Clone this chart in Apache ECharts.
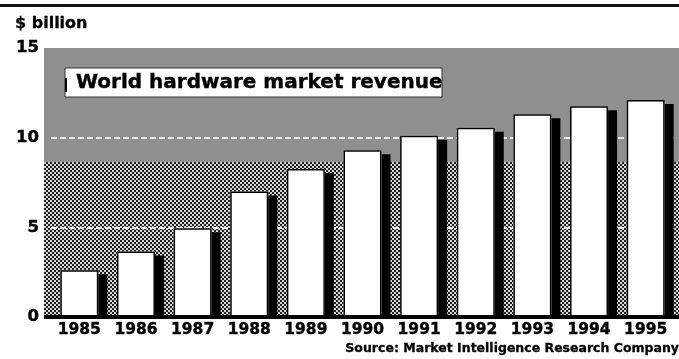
<!DOCTYPE html>
<html>
<head>
<meta charset="utf-8">
<script src="https://cdn.jsdelivr.net/npm/echarts@6/dist/echarts.min.js"></script>
<style>
html,body{margin:0;padding:0;background:#fff;}
#main{width:679px;height:359px;}
</style>
</head>
<body>
<div id="main"></div>
<script>
var categories = ['1985','1986','1987','1988','1989','1990','1991','1992','1993','1994','1995'];
var revenue = [2.6, 3.65, 4.95, 7.0, 8.25, 9.3, 10.1, 10.55, 11.3, 11.75, 12.1];
var yTicks = [0, 5, 10, 15];
var titleText = 'World hardware market revenue';
var unitText = '$ billion';
var sourceText = 'Source: Market Intelligence Research Company';

var FONT = '"DejaVu Sans", "Liberation Sans", sans-serif';

// checker pattern for the lower background band
var pat = document.createElement('canvas');
pat.width = 4; pat.height = 4;
var pc = pat.getContext('2d');
pc.fillStyle = '#d4d4d4'; pc.fillRect(0, 0, 4, 4);
pc.fillStyle = '#222222'; pc.fillRect(0, 0, 2, 2); pc.fillRect(2, 2, 2, 2);

var chart = echarts.init(document.getElementById('main'), null, {renderer: 'canvas'});

chart.setOption({
  animation: false,
  backgroundColor: '#ffffff',
  grid: {left: 51, right: 5, top: 48, bottom: 42},
  graphic: [
    {type: 'rect', z: 0, shape: {x: 0, y: 4, width: 679, height: 3}, style: {fill: '#111'}},
    {type: 'rect', z: 0, shape: {x: 44, y: 48, width: 635, height: 114}, style: {fill: '#8f8f8f'}},
    {type: 'rect', z: 0, shape: {x: 44, y: 162, width: 635, height: 155}, style: {fill: {image: pat, repeat: 'repeat'}}},
    {type: 'rect', z: 10, shape: {x: 44, y: 319, width: 635, height: 40}, style: {fill: '#ffffff'}},
    {type: 'rect', z: 11, shape: {x: 44, y: 315, width: 635, height: 4}, style: {fill: '#000'}},
    {type: 'rect', z: 11, shape: {x: 65, y: 68, width: 377, height: 29}, style: {fill: '#ffffff', stroke: '#333', lineWidth: 1}},
    {type: 'rect', z: 12, shape: {x: 65, y: 78, width: 2, height: 14}, style: {fill: '#000'}},
    {type: 'text', z: 12, x: 76, y: 83, style: {text: titleText, font: 'bold 20px ' + FONT, fill: '#000', stroke: '#000', lineWidth: 0.4, textVerticalAlign: 'middle', textAlign: 'left'}},
    {type: 'text', z: 12, x: 15, y: 24, style: {text: unitText, font: 'bold 16px ' + FONT, fill: '#000', stroke: '#000', lineWidth: 0.3, textVerticalAlign: 'middle'}},
    {type: 'text', z: 12, x: 679, y: 349, style: {text: sourceText, font: 'bold 12.5px ' + FONT, fill: '#000', stroke: '#000', lineWidth: 0.3, textVerticalAlign: 'middle', textAlign: 'right'}}
  ],
  xAxis: {
    type: 'category',
    data: categories,
    z: 13,
    axisLine: {show: false},
    axisTick: {show: false},
    axisLabel: {margin: 5, color: '#000', fontFamily: FONT, fontWeight: 'bold', fontSize: 15.5, interval: 0,
      textBorderColor: '#000', textBorderWidth: 0.4}
  },
  yAxis: {
    type: 'value',
    min: 0, max: 15, interval: 5,
    z: 1,
    axisLine: {show: false},
    axisTick: {show: false},
    axisLabel: {margin: 12, color: '#000', fontFamily: FONT, fontWeight: 'bold', fontSize: 16.5,
      textBorderColor: '#000', textBorderWidth: 0.4,
      formatter: function (v) { return yTicks.indexOf(v) >= 0 ? String(v) : ''; }},
    splitLine: {show: true, showMinLine: false, showMaxLine: false, lineStyle: {color: '#ececec', width: 2, type: [6, 3]}}
  },
  series: [{
    type: 'bar',
    z: 2,
    data: revenue,
    barWidth: 38,
    itemStyle: {
      color: '#ffffff',
      borderWidth: 0,
      shadowColor: '#000',
      shadowBlur: 0,
      shadowOffsetX: 9,
      shadowOffsetY: 4
    }
  }, {
    type: 'bar',
    z: 3,
    data: revenue,
    barWidth: 38,
    barGap: '-100%',
    silent: true,
    itemStyle: {
      color: 'rgba(0,0,0,0)',
      borderColor: '#000',
      borderWidth: 1.5
    }
  }]
});
</script>
</body>
</html>
